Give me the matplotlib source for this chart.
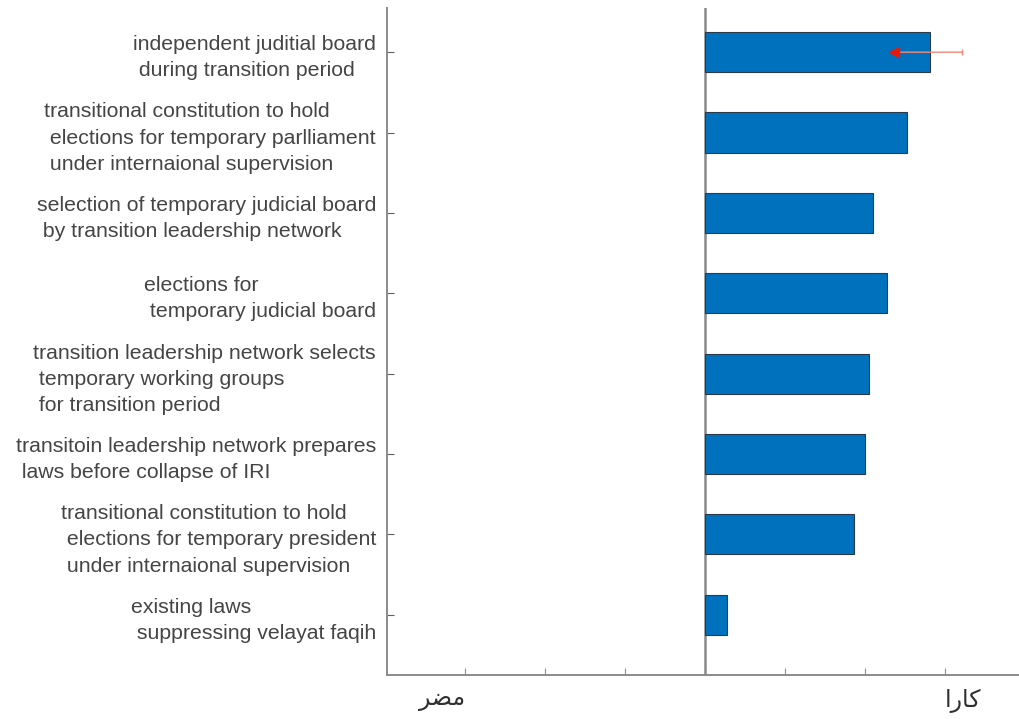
import matplotlib
matplotlib.use('Agg')
import matplotlib.pyplot as plt

plt.rcParams['font.family'] = ['Liberation Sans', 'DejaVu Sans']

# labels listed top to bottom
labels = [
    "independent juditial board\n during transition period",
    "transitional constitution to hold\n elections for temporary parlliament\n under internaional supervision",
    "selection of temporary judicial board\n by transition leadership network",
    "elections for\n temporary judicial board",
    "transition leadership network selects\n temporary working groups\n for transition period",
    "transitoin leadership network prepares\n laws before collapse of IRI",
    "transitional constitution to hold\n elections for temporary president\n under internaional supervision",
    "existing laws\n suppressing velayat faqih",
]
values = [2.81, 2.53, 2.10, 2.28, 2.05, 2.00, 1.86, 0.28]

# arrow on the top bar (from, to)
arrow_from = 3.21
arrow_to = 2.29

xticks = [-3, -2, -1, 0, 1, 2, 3]
# Arabic words in presentation forms, visual order (matplotlib has no shaping)
left_word = "\uFEAE\uFEC0\uFEE3"        # مضر
right_word = "\uFE8D\uFEAD\uFE8E\uFB90"  # کارا
xticklabels = [left_word, '', '', '', '', '', right_word]

n = len(labels)
ypos = list(range(n, 0, -1))

fig = plt.figure(figsize=(10.2, 7.19), dpi=100)
ax = fig.add_axes([387 / 1020, 1 - 675 / 719, (1025 - 387) / 1020, (675 - 8) / 719])

ax.barh(ypos, values, height=0.5, color='#0072BD', edgecolor='#2a3a4a', linewidth=0.8, zorder=3)
ax.axvline(0, color='#8a8a8a', linewidth=1.8, zorder=2)

ax.annotate('', xy=(arrow_to + 0.1, ypos[0]), xytext=(arrow_from, ypos[0]),
            arrowprops=dict(arrowstyle='-', color='#f08a78', lw=1.0,
                            shrinkA=0, shrinkB=0), zorder=5)
ax.plot([arrow_to + 0.07], [ypos[0]], marker='<', color='#e8190c', ms=7, zorder=6)
ax.plot([arrow_from], [ypos[0]], marker='|', color='#f08a78', ms=4, zorder=5)

ax.set_xlim(-3.975, 4.0)
ax.set_ylim(0.25, 8.55)

ax.set_yticks(ypos)
ax.set_yticklabels(labels, fontsize=15.3, color='#454545', linespacing=1.48,
                   multialignment='left')
ax.set_xticks(xticks)
ax.set_xticklabels(xticklabels, fontsize=17, color='#303030')
tl = ax.get_xticklabels()
tl[0].set_horizontalalignment('right')
tl[-1].set_horizontalalignment('left')

ax.tick_params(axis='y', direction='in', length=5, color='#606060', pad=8)
ax.tick_params(axis='x', direction='in', length=5, color='#909090', pad=10)

for s in ['top', 'right']:
    ax.spines[s].set_visible(False)
for s in ['left', 'bottom']:
    ax.spines[s].set_color('#8a8a8a')
    ax.spines[s].set_linewidth(1.4)

fig.savefig('out.png', dpi=100)
